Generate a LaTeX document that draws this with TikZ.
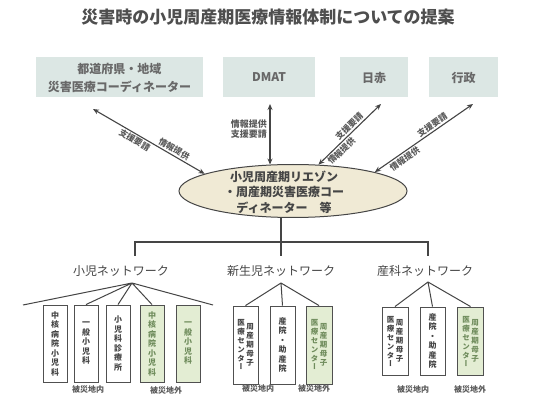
\documentclass[tikz,border=0pt]{standalone}
\usepackage{fontspec}
\setmainfont{Noto Sans CJK JP}
\newfontfamily\jpv[RawFeature=+vert]{Noto Sans CJK JP}
\usetikzlibrary{arrows.meta,shapes.geometric}
\definecolor{ink}{HTML}{454545}
\definecolor{titleink}{HTML}{4E4E4E}
\definecolor{topfill}{HTML}{DCE7E4}
\definecolor{topink}{HTML}{686868}
\definecolor{lblink}{HTML}{5A5A5A}
\definecolor{ellfill}{HTML}{F0EAD5}
\definecolor{greenfill}{HTML}{E3EDD3}
\definecolor{greenink}{HTML}{6F8C5C}
\definecolor{boxdraw}{HTML}{505050}
\begin{document}
\begin{tikzpicture}[x=1pt,y=-1pt,
  topbox/.style={fill=topfill, minimum height=40pt, text=topink, font=\bfseries\fontsize{12}{18}\selectfont, align=center, inner sep=0pt},
  conn/.style={draw=ink, line width=1.1pt},
  biarrow/.style={conn, {Stealth[length=6pt,width=5pt]}-{Stealth[length=6pt,width=5pt]}},
  lbl/.style={font=\bfseries\fontsize{8.5}{10}\selectfont, text=lblink, inner sep=1.5pt},
  netlbl/.style={font=\fontsize{12}{14}\selectfont, text=ink, inner sep=0pt},
  wbox/.style={draw=boxdraw, line width=0.9pt, fill=white, minimum width=24pt, inner sep=0pt},
  gbox/.style={wbox, fill=greenfill},
  vt/.style={font=\jpv\bfseries\fontsize{8}{9.5}\selectfont, align=center, inner sep=0pt, text=ink},
  gvt/.style={vt, text=greenink},
  vts/.style={vt, font=\jpv\bfseries\fontsize{7.5}{8.8}\selectfont},
  gvts/.style={vts, text=greenink},
  area/.style={font=\bfseries\fontsize{8}{10}\selectfont, text=lblink, inner sep=0pt}
]
\useasboundingbox (0,0) rectangle (550,401);
\fill[white] (0,0) rectangle (550,401);

% title
\node[font=\bfseries\fontsize{17}{20}\selectfont, text=titleink] (title) at (268,17) {災害時の小児周産期医療情報体制についての提案};

% top boxes
\node[topbox, minimum width=167pt] (t1) at (119.5,77.5) {都道府県・地域\\災害医療コーディネーター};
\node[topbox, minimum width=92pt] (t2) at (269,77.5) {DMAT};
\node[topbox, minimum width=68pt] (t3) at (374,77.5) {日赤};
\node[topbox, minimum width=69pt] (t4) at (463.5,77.5) {行政};

% ellipse
\node[ellipse, draw=ink, line width=1pt, fill=ellfill, minimum width=228pt, minimum height=53pt, inner sep=0pt] (e) at (293,191) {};
\node[font=\bfseries\fontsize{12}{15.5}\selectfont, align=center, text=ink] (et) at (284,192) {小児周産期リエゾン\\・周産期災害医療コー\\ディネーター　等};

% arrow ends
\coordinate (a1) at (93,109);
\coordinate (a2) at (270,104);
\coordinate (a3) at (381,104);
\coordinate (a4) at (473,104);

\draw[biarrow] (a1) -- (e.169)
  node[lbl, sloped, above, pos=0.70] (l1a) {情報提供}
  node[lbl, sloped, below, pos=0.40] (l1b) {支援要請};
\draw[biarrow] (a2) -- (e.131 -| a2)
  node[lbl, left, pos=0.42, align=center, font=\bfseries\fontsize{9}{10}\selectfont, xshift=-1pt] (l2) {情報提供\\支援要請};
\draw[biarrow] (e.46) -- (a3)
  node[lbl, sloped, above, pos=0.56] (l3a) {支援要請}
  node[lbl, sloped, below, pos=0.30] (l3b) {情報提供};
\draw[biarrow] (e.13) -- (a4)
  node[lbl, sloped, above, pos=0.62] (l4a) {支援要請}
  node[lbl, sloped, below, pos=0.27] (l4b) {情報提供};

% networks
\node[netlbl] (n1) at (121,271) {小児ネットワーク};
\node[netlbl] (n2) at (281,271) {新生児ネットワーク};
\node[netlbl] (n3) at (425,271) {産科ネットワーク};
\coordinate (j1) at (135,256);
\coordinate (j2) at (281,256);
\coordinate (j3) at (428,256);
\draw[conn] (n2.north |- e.south) -- (j2);
\draw[conn] (j1) -- ++(0,-14) -| (j3);

% boxes: pediatric
\node[wbox, minimum height=77pt] (b11) at (55,343.5) {};
\node[wbox, minimum height=77pt] (b12) at (86,343.5) {};
\node[wbox, minimum height=77pt] (b13) at (118,343.5) {};
\node[gbox, minimum height=77pt] (b14) at (152,343.5) {};
\node[gbox, minimum height=77pt] (b15) at (188,343.5) {};
\node[vt] (b11t) at (b11) {中\\核\\病\\院\\小\\児\\科};
\node[vt] (b12t) at (b12) {一\\般\\小\\児\\科};
\node[vt] (b13t) at (b13) {小\\児\\科\\診\\療\\所};
\node[gvt] (b14t) at (b14) {中\\核\\病\\院\\小\\児\\科};
\node[gvt] (b15t) at (b15) {一\\般\\小\\児\\科};

% boxes: neonatal
\node[wbox, minimum width=25pt, minimum height=78pt] (b21) at (245.5,345) {};
\node[wbox, minimum width=25pt, minimum height=78pt] (b22) at (282.5,345) {};
\node[gbox, minimum width=26pt, minimum height=78pt] (b23) at (319,345) {};
\node[vts, anchor=north] (b21r) at ([xshift=4.5pt,yshift=-18pt]b21.north) {周\\産\\期\\母\\子};
\node[vts, anchor=north] (b21l) at ([xshift=-4.5pt,yshift=-14pt]b21.north) {医\\療\\セ\\ン\\タ\\ー};
\node[vt] (b22t) at (b22) {産\\院\\・\\助\\産\\院};
\node[gvts, anchor=north] (b23r) at ([xshift=4.5pt,yshift=-18pt]b23.north) {周\\産\\期\\母\\子};
\node[gvts, anchor=north] (b23l) at ([xshift=-4.5pt,yshift=-14pt]b23.north) {医\\療\\セ\\ン\\タ\\ー};

% boxes: obstetric
\node[wbox, minimum width=26pt, minimum height=68pt] (b31) at (395,341) {};
\node[wbox, minimum width=25pt, minimum height=68pt] (b32) at (432.5,341) {};
\node[gbox, minimum width=26pt, minimum height=68pt] (b33) at (470.5,341) {};
\node[vts, anchor=north] (b31r) at ([xshift=4.5pt,yshift=-13pt]b31.north) {周\\産\\期\\母\\子};
\node[vts, anchor=north] (b31l) at ([xshift=-4.5pt,yshift=-10pt]b31.north) {医\\療\\セ\\ン\\タ\\ー};
\node[vt] (b32t) at (b32) {産\\院\\・\\助\\産\\院};
\node[gvts, anchor=north] (b33r) at ([xshift=4.5pt,yshift=-13pt]b33.north) {周\\産\\期\\母\\子};
\node[gvts, anchor=north] (b33l) at ([xshift=-4.5pt,yshift=-10pt]b33.north) {医\\療\\セ\\ン\\タ\\ー};

% fans
\coordinate (p1) at (132,283);
\coordinate (p2) at (281,283);
\coordinate (p3) at (428,282);
\coordinate (f1) at (23,305);
\coordinate (f2) at (213,305);
\draw[conn, line width=1pt] (p1) -- (f1) (p1) -- (b12.north) (p1) -- (b13.north) (p1) -- (b14.north) (p1) -- (f2);
\draw[conn, line width=1pt] (p2) -- (b21.north) (p2) -- (b22.north) (p2) -- (b23.north);
\draw[conn, line width=1pt] (p3) -- (b31.north) (p3) -- (b32.north) (p3) -- (b33.north);

% area labels
\node[area] (r1) at (88,389) {被災地内};
\node[area] (r2) at (166,390) {被災地外};
\node[area] (r3) at (258,388) {被災地内};
\node[area] (r4) at (314,388) {被災地外};
\node[area] (r5) at (413,389) {被災地内};
\node[area] (r6) at (470,389) {被災地外};
\end{tikzpicture}
\end{document}
